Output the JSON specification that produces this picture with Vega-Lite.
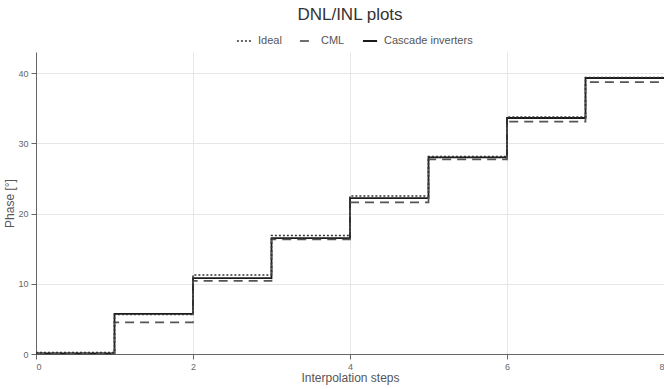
{
  "$schema": "https://vega.github.io/schema/vega-lite/v6.json",
  "autosize": {"type": "none"},
  "width": 628,
  "height": 302,
  "padding": {"left": 36, "top": 52, "right": 0, "bottom": 35},
  "background": "white",
  "title": {"text": "DNL/INL plots", "anchor": "middle", "fontSize": 17, "fontWeight": "normal", "font": "Liberation Sans", "color": "#333", "offset": 9},
  "data": {"values": [
    {"series": "Cascade inverters", "x": 0, "y": 0.1},
    {"series": "Cascade inverters", "x": 1, "y": 5.7},
    {"series": "Cascade inverters", "x": 2, "y": 10.8},
    {"series": "Cascade inverters", "x": 3, "y": 16.5},
    {"series": "Cascade inverters", "x": 4, "y": 22.2},
    {"series": "Cascade inverters", "x": 5, "y": 28.0},
    {"series": "Cascade inverters", "x": 6, "y": 33.6},
    {"series": "Cascade inverters", "x": 7, "y": 39.3},
    {"series": "Cascade inverters", "x": 8, "y": 39.3},
    {"series": "CML", "x": 0, "y": 0.1},
    {"series": "CML", "x": 1, "y": 4.5},
    {"series": "CML", "x": 2, "y": 10.4},
    {"series": "CML", "x": 3, "y": 16.3},
    {"series": "CML", "x": 4, "y": 21.6},
    {"series": "CML", "x": 5, "y": 27.7},
    {"series": "CML", "x": 6, "y": 33.1},
    {"series": "CML", "x": 7, "y": 38.7},
    {"series": "CML", "x": 8, "y": 38.7},
    {"series": "Ideal", "x": 0, "y": 0.2},
    {"series": "Ideal", "x": 1, "y": 5.625},
    {"series": "Ideal", "x": 2, "y": 11.25},
    {"series": "Ideal", "x": 3, "y": 16.875},
    {"series": "Ideal", "x": 4, "y": 22.5},
    {"series": "Ideal", "x": 5, "y": 28.125},
    {"series": "Ideal", "x": 6, "y": 33.75},
    {"series": "Ideal", "x": 7, "y": 39.375},
    {"series": "Ideal", "x": 8, "y": 39.375}
  ]},
  "mark": {"type": "line", "interpolate": "step-after", "clip": false},
  "encoding": {
    "x": {"field": "x", "type": "quantitative",
      "scale": {"domain": [0, 8], "nice": false, "zero": false},
      "axis": {"values": [0, 2, 4, 6, 8], "title": "Interpolation steps", "titlePadding": 1}},
    "y": {"field": "y", "type": "quantitative",
      "scale": {"domain": [0, 43], "nice": false},
      "axis": {"values": [0, 10, 20, 30, 40], "title": "Phase [°]", "titlePadding": 1}},
    "color": {"field": "series", "type": "nominal",
      "scale": {"domain": ["Ideal", "CML", "Cascade inverters"], "range": ["#333333", "#555555", "#1a1a1a"]},
      "legend": {"title": null, "orient": "none", "direction": "horizontal", "legendX": 200, "legendY": -19}},
    "strokeDash": {"field": "series", "type": "nominal",
      "scale": {"domain": ["Ideal", "CML", "Cascade inverters"], "range": [[2, 2], [9, 6], [1, 0]]},
      "legend": {"title": null, "orient": "none", "direction": "horizontal", "legendX": 200, "legendY": -19}},
    "strokeWidth": {"field": "series", "type": "nominal",
      "scale": {"domain": ["Ideal", "CML", "Cascade inverters"], "range": [1.6, 1.8, 2.2]},
      "legend": {"title": null, "orient": "none", "direction": "horizontal", "legendX": 200, "legendY": -19}}
  },
  "config": {
    "font": "Liberation Sans",
    "view": {"stroke": null},
    "axis": {
      "labelFont": "Liberation Sans", "labelFontSize": 9, "labelColor": "#666",
      "titleFont": "Liberation Sans", "titleFontSize": 12, "titleFontWeight": "normal", "titleColor": "#555",
      "gridColor": "#e6e6e6", "gridWidth": 1,
      "domainColor": "#666", "domainWidth": 1,
      "tickColor": "#666", "tickSize": 5, "labelPadding": 3
    },
    "legend": {
      "labelFont": "Liberation Sans", "labelFontSize": 11, "labelColor": "#555",
      "symbolType": "stroke", "symbolSize": 200, "columnPadding": 14, "labelOffset": 6
    }
  }
}
